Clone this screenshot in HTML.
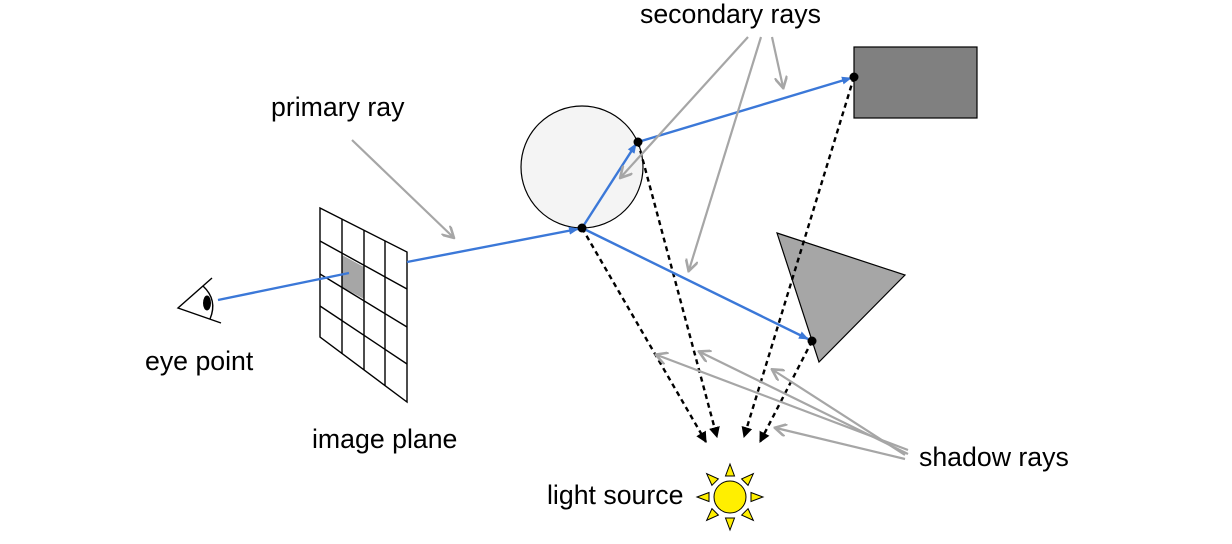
<!DOCTYPE html>
<html><head><meta charset="utf-8"><style>
html,body{margin:0;padding:0;background:#fff;width:1232px;height:544px;overflow:hidden}
svg text{font-family:"Liberation Sans",Arial,sans-serif;font-size:26.7px;fill:#000}
</style></head><body>
<svg width="1232" height="544" viewBox="0 0 1232 544" xmlns="http://www.w3.org/2000/svg">
<defs>
<marker id="ab" viewBox="0 0 10 10" refX="9" refY="5" markerWidth="10" markerHeight="10" markerUnits="userSpaceOnUse" orient="auto"><path d="M0,1 L10,5 L0,9 z" fill="#3b78d8"/></marker>
<marker id="ag" viewBox="0 0 10 10" refX="8" refY="5" markerWidth="13" markerHeight="13" markerUnits="userSpaceOnUse" orient="auto"><path d="M0,0 L9,5 L0,10" fill="none" stroke="#a6a6a6" stroke-width="2"/></marker>
<marker id="ak" viewBox="0 0 10 10" refX="9" refY="5" markerWidth="11" markerHeight="11" markerUnits="userSpaceOnUse" orient="auto"><path d="M0,0 L10,5 L0,10 z" fill="#000"/></marker>
</defs>

<circle cx="582" cy="167" r="61" fill="#f4f4f4" stroke="#000" stroke-width="1.2"/>
<rect x="854" y="47" width="123" height="71" fill="#808080" stroke="#000" stroke-width="1.2"/>
<polygon points="777,233 905,275 819,362" fill="#a6a6a6" stroke="#000" stroke-width="1.2"/>

<polygon points="342,255 364,267 364,299 342,287" fill="#a6a6a6"/>
<g stroke="#000" stroke-width="1.4" fill="none">
<polygon points="320,208 407,252 407,402 320,337"/>
<line x1="342" y1="219" x2="342" y2="354"/>
<line x1="364" y1="230" x2="364" y2="370"/>
<line x1="385" y1="241" x2="385" y2="386"/>
<line x1="320" y1="241" x2="407" y2="289"/>
<line x1="320" y1="274" x2="407" y2="327"/>
<line x1="320" y1="306" x2="407" y2="364"/>
</g>

<g stroke="#000" stroke-width="1.4" fill="none">
<polyline points="212,278 178,308 221,323"/>
<path d="M203,286 Q218,300 210,319"/>
</g>
<ellipse cx="207" cy="303" rx="4" ry="7.5" fill="#000"/>

<g stroke="#000" stroke-width="2.4" stroke-dasharray="5,4" fill="none" marker-end="url(#ak)">
<line x1="582" y1="228" x2="706" y2="442"/>
<line x1="638" y1="142" x2="717" y2="437"/>
<line x1="854" y1="77" x2="744" y2="437"/>
<line x1="812" y1="341" x2="760" y2="442"/>
</g>

<g stroke="#3b78d8" stroke-width="2.4" fill="none">
<line x1="218" y1="300" x2="349" y2="273"/>
<line x1="407" y1="262" x2="578" y2="229" marker-end="url(#ab)"/>
<line x1="582" y1="228" x2="636" y2="144" marker-end="url(#ab)"/>
<line x1="638" y1="142" x2="851" y2="78" marker-end="url(#ab)"/>
<line x1="582" y1="228" x2="808" y2="339" marker-end="url(#ab)"/>
</g>

<g stroke="#a6a6a6" stroke-width="2.2" fill="none" marker-end="url(#ag)">
<line x1="352" y1="140" x2="453" y2="237"/>
<line x1="748" y1="37" x2="621" y2="177"/>
<line x1="761" y1="37" x2="689" y2="270"/>
<line x1="772" y1="37" x2="783" y2="87"/>
<line x1="908" y1="450" x2="657" y2="355"/>
<line x1="908" y1="454" x2="700" y2="352"/>
<line x1="905" y1="455" x2="773" y2="370"/>
<line x1="905" y1="459" x2="776" y2="428"/>
</g>

<g fill="#000">
<circle cx="582" cy="228" r="4.5"/>
<circle cx="638" cy="142" r="4.5"/>
<circle cx="854" cy="77" r="4.5"/>
<circle cx="812" cy="341" r="4.5"/>
</g>

<g fill="#ffef00" stroke="#000" stroke-width="1" transform="translate(730,497)">
<polygon points="-4.5,-21 4.5,-21 0,-33"/>
<polygon points="-4.5,-21 4.5,-21 0,-33" transform="rotate(45)"/>
<polygon points="-4.5,-21 4.5,-21 0,-33" transform="rotate(90)"/>
<polygon points="-4.5,-21 4.5,-21 0,-33" transform="rotate(135)"/>
<polygon points="-4.5,-21 4.5,-21 0,-33" transform="rotate(180)"/>
<polygon points="-4.5,-21 4.5,-21 0,-33" transform="rotate(225)"/>
<polygon points="-4.5,-21 4.5,-21 0,-33" transform="rotate(270)"/>
<polygon points="-4.5,-21 4.5,-21 0,-33" transform="rotate(315)"/>
<circle cx="0" cy="0" r="16"/>
</g>

<text x="640" y="23">secondary rays</text>
<text x="271" y="116">primary ray</text>
<text x="145" y="370">eye point</text>
<text x="312" y="448">image plane</text>
<text x="547" y="504">light source</text>
<text x="919" y="466">shadow rays</text>
</svg>
</body></html>
